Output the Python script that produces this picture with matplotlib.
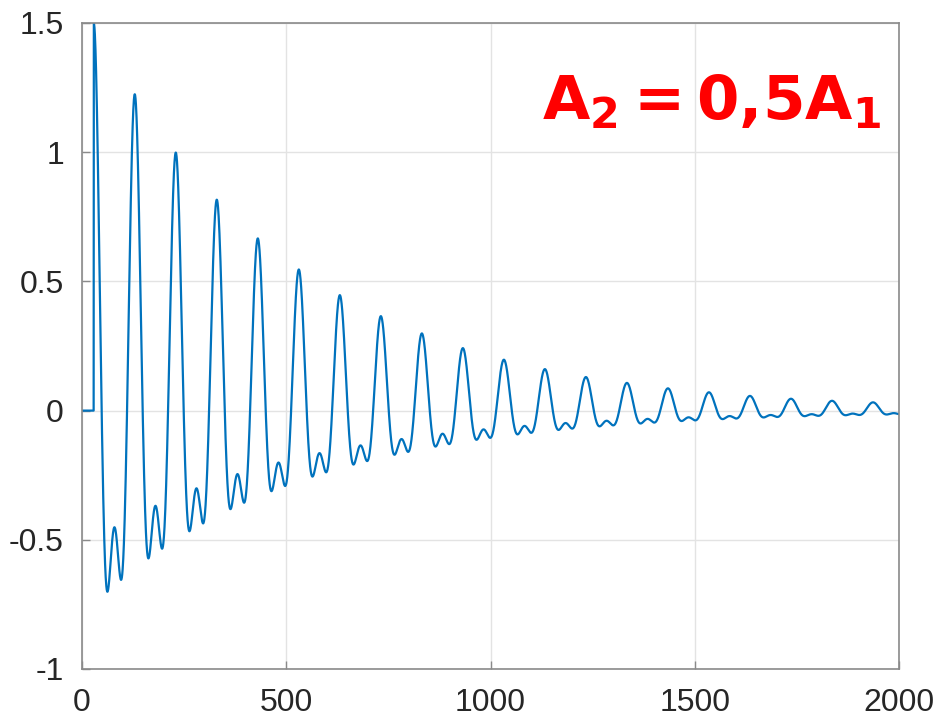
import numpy as np
import matplotlib
matplotlib.use("Agg")
import matplotlib.pyplot as plt
from matplotlib import font_manager

# ---- data ----
onset_time = 29            # sample where the signal switches on
period = 100.4             # spacing between successive peaks
peak_times = [29, 129, 229, 329, 430, 530, 631, 731, 830, 932,
              1033, 1132, 1233, 1335, 1435, 1534, 1634, 1734, 1835, 1936]
peak_values = [1.5, 1.225, 1.0, 0.818, 0.667, 0.547, 0.447, 0.366, 0.300, 0.242,
               0.197, 0.161, 0.130, 0.107, 0.086, 0.071, 0.057, 0.046, 0.038, 0.032]
harmonic_ratio = 0.5       # A2 = 0,5 A1
x_ticks = [0, 500, 1000, 1500, 2000]
y_ticks = [-1, -0.5, 0, 0.5, 1, 1.5]
y_tick_labels = ["-1", "-0.5", "0", "0.5", "1", "1.5"]
annotation = r"$\mathbf{A_2 = 0{,}5A_1}$"

# ---- build the trace from the read peaks ----
t = np.arange(0, 2001, 0.5)
pt = np.array(peak_times, float)
pv = np.log(np.array(peak_values))
slope = (pv[-1] - pv[-2]) / (pt[-1] - pt[-2])
log_env = np.interp(t, pt, pv)
log_env = np.where(t > pt[-1], pv[-1] + slope * (t - pt[-1]), log_env)
env = np.exp(log_env)
phase = 2 * np.pi * (t - onset_time) / period
shape = (np.cos(phase) + harmonic_ratio * np.cos(2 * phase)) / (1 + harmonic_ratio)
y = np.where(t >= onset_time, env * shape, 0.0)

# ---- fonts ----
avail = {f.name for f in font_manager.fontManager.ttflist}
tick_family = [f for f in ["Liberation Sans Narrow", "Liberation Sans", "DejaVu Sans"] if f in avail]

fig = plt.figure(figsize=(9.41, 7.23), dpi=100)
ax = fig.add_axes([82 / 941, 1 - 669 / 723, (899 - 82) / 941, (669 - 23) / 723])

ax.plot(t, y, color="#0072BD", lw=1.6, clip_on=True)

ax.set_xlim(0, 2000)
ax.set_ylim(-1, 1.5)
ax.set_xticks(x_ticks)
ax.set_yticks(y_ticks)
ax.set_yticklabels(y_tick_labels)
ax.grid(True, color="#e3e3e3", lw=1.0)
ax.set_axisbelow(True)
for s in ax.spines.values():
    s.set_color("#8a8a8a")
    s.set_linewidth(1.2)
ax.tick_params(direction="in", length=6, width=1, color="#8a8a8a",
               labelsize=23, labelcolor="#262626")
ax.tick_params(axis="x", pad=14)
ax.tick_params(axis="y", pad=13)
for lab in ax.get_xticklabels() + ax.get_yticklabels():
    lab.set_family(tick_family)

plt.rcParams["mathtext.fontset"] = "dejavusans"
fig.text(542 / 941, 1 - 119 / 723, annotation, color="#ff0000",
         fontsize=44, ha="left", va="baseline")

fig.savefig("out.png", dpi=100)
